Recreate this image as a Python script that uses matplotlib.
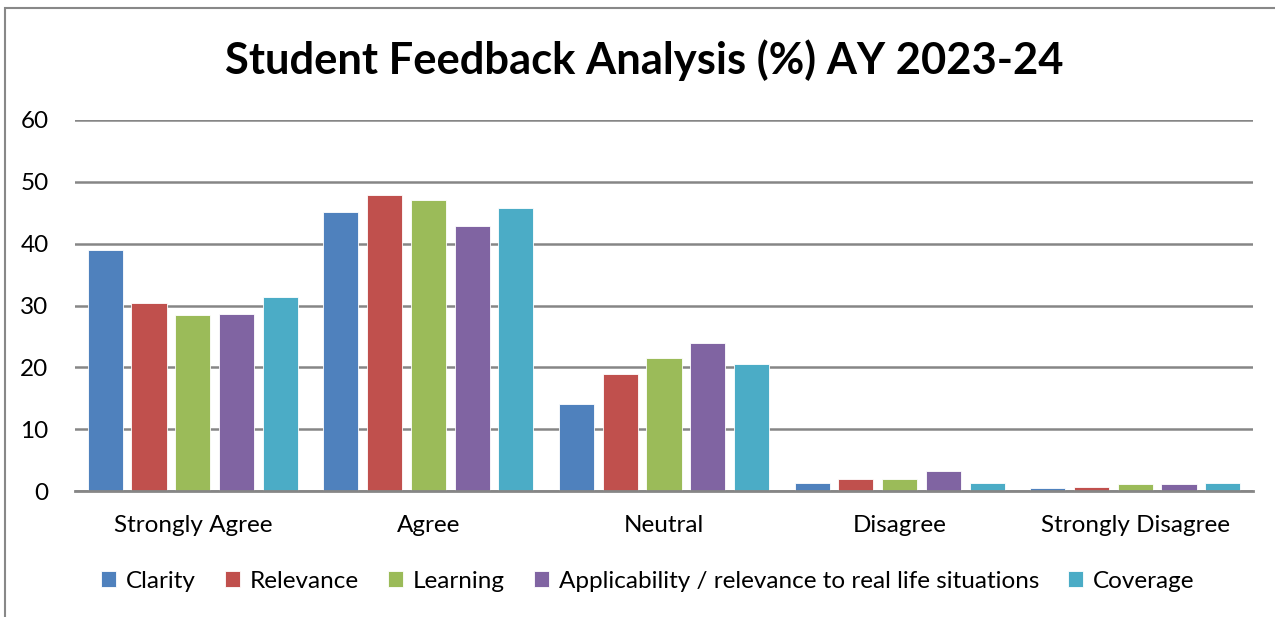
import matplotlib.pyplot as plt
import numpy as np
from matplotlib.patches import Rectangle

categories = ['Strongly Agree', 'Agree', 'Neutral', 'Disagree', 'Strongly Disagree']
series = ['Clarity', 'Relevance', 'Learning',
          'Applicability / relevance to real life situations', 'Coverage']
clarity = [39.0, 45.2, 14.0, 1.3, 0.55]
relevance = [30.4, 47.9, 19.0, 1.9, 0.7]
learning = [28.4, 47.1, 21.5, 1.9, 1.1]
applicability = [28.7, 42.9, 24.0, 3.3, 1.1]
coverage = [31.3, 45.7, 20.5, 1.3, 1.3]
colors = ['#4F81BD', '#C0504D', '#9BBB59', '#8064A2', '#4BACC6']

plt.rcParams['font.family'] = ['Lato', 'DejaVu Sans']

fig = plt.figure(figsize=(12.75, 6.17), dpi=100)
fig.patches.append(Rectangle((5 / 1275, -0.1), 1.2, 1.1 - 8 / 617,
                             transform=fig.transFigure, fill=False,
                             edgecolor='#888888', linewidth=1.5))

ax = fig.add_axes([75 / 1275, 1 - 491 / 617, (1253 - 75) / 1275, (491 - 120) / 617])

x = np.arange(len(categories))
step = 0.1857
width = 0.149
for i, (name, vals) in enumerate(zip(series, [clarity, relevance, learning, applicability, coverage])):
    ax.bar(x + (i - 2) * step, vals, width, color=colors[i], label=name,
           edgecolor='white', linewidth=0.6, zorder=3)

ax.set_xlim(-0.5, 4.5)
ax.set_ylim(0, 60)
ax.set_yticks(range(0, 61, 10))
ax.yaxis.grid(True, color='#868686', linewidth=1.8, zorder=0)
for s in ['top', 'right', 'left']:
    ax.spines[s].set_visible(False)
ax.spines['bottom'].set_color('#868686')
ax.spines['bottom'].set_linewidth(2)
ax.spines['bottom'].set_zorder(4)
ax.set_xticks(x)
ax.set_xticklabels(categories)
ax.tick_params(axis='both', length=0, labelsize=17.5, labelcolor='black')
ax.tick_params(axis='x', pad=17)
ax.tick_params(axis='y', pad=19)

fig.text(0.505, 1 - 60 / 617, 'Student Feedback Analysis (%) AY 2023-24',
         ha='center', va='center', fontsize=31.3, fontweight='bold')

fig.legend(loc='center', bbox_to_anchor=(0.508, 1 - 581 / 617), ncol=5,
           frameon=False, fontsize=17.5, handlelength=0.62, handleheight=0.62,
           handletextpad=0.4, columnspacing=1.2)

fig.savefig('out.png', dpi=100)
